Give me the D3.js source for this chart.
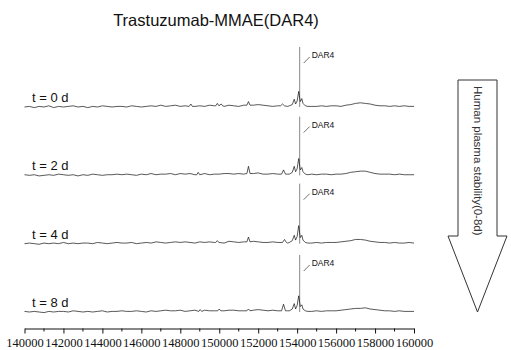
<!DOCTYPE html>
<html>
<head>
<meta charset="utf-8">
<script src="https://cdn.jsdelivr.net/npm/d3@7"></script>
<style>
  body { margin: 0; background: #fff; }
  svg { display: block; }
  .trace { fill: none; stroke: #111; stroke-width: 0.7; }
  .spike { stroke: #7a7a7a; stroke-width: 0.9; }
  .x.axis text { font-family: "Liberation Serif", serif; font-size: 12.5px; fill: #111; }
  .x.axis path, .x.axis line { stroke: #111; stroke-width: 1; }
</style>
</head>
<body>
<div id="chart"></div>
<script>
// time points, top to bottom
const timeLabels = ['t = 0 d', 't = 2 d', 't = 4 d', 't = 8 d'];

// baseline grid (every 250 Da, 140000..160000), relative intensity
const massStep = 250;
const noise0 = [0,1,-1,1,0,2,-1,1,0,1, 2,0,1,-1,1,0,2,1,0,1, 1,0,2,1,0,1,2,1,3,1, 2,3,1,2,3,1,2,1,3,2,
  2,1,3,2,1,3,4,3,4,3, 2,1,2,2,1,2,1,1,2,1, 1,2,1,2,2,1,3,4,6,7, 6,5,3,2,2,1,2,1,2,1, 1];
const noise2 = [1,0,1,-1,0,1,0,2,1,0, 1,-1,1,0,2,1,0,1,1,2, 1,2,1,0,2,1,3,1,2,2, 3,1,3,2,3,1,2,3,1,2,
  2,3,3,2,3,2,4,3,4,2, 2,3,2,1,2,2,2,1,2,2, 1,2,2,1,2,2,3,5,6,7, 7,5,3,2,2,2,1,2,1,1, 1];
const noise4 = [0,1,0,-1,1,0,1,0,2,0, 1,0,1,1,0,2,1,0,1,2, 1,1,2,0,1,2,1,3,2,1, 2,3,2,3,2,1,3,2,3,2,
  2,1,4,3,2,3,4,4,3,2, 2,3,2,2,1,2,2,1,2,1, 2,1,2,2,2,3,4,5,7,7, 6,4,3,2,2,1,2,1,1,2, 1];
const noise8 = [1,0,1,0,-1,1,0,1,1,0, 2,1,0,1,0,1,2,0,1,1, 2,1,1,2,1,0,2,1,2,3, 2,2,3,1,2,3,2,3,2,2,
  3,2,3,3,2,2,3,3,4,3, 2,3,2,1,2,2,2,1,2,1, 2,1,2,2,2,3,4,5,6,6, 7,5,4,3,2,2,1,2,1,1, 1];

// peak clusters [mass, intensity]
const peaks0 = [
  [[148450, 1], [148540, 5], [148620, 1]],
  [[149820, 2], [149900, 6], [149980, 2], [150100, 5], [150180, 2]],
  [[151420, 3], [151500, 9], [151580, 3]],
  [[153150, 2], [153250, 5], [153350, 2]],
  [[153600, 2], [153750, 4], [153850, 13], [153920, 5], [154000, 10], [154080, 26], [154160, 9], [154240, 14], [154300, 6], [154420, 2], [154550, 1]]
];
const peaks2 = [
  [[148850, 1], [148920, 5], [149000, 1]],
  [[151420, 3], [151500, 15], [151580, 3]],
  [[153200, 2], [153300, 9], [153400, 2]],
  [[153600, 2], [153750, 5], [153850, 15], [153920, 6], [154000, 11], [154080, 28], [154160, 9], [154240, 13], [154300, 6], [154420, 2], [154550, 1]]
];
const peaks4 = [
  [[149820, 2], [149900, 5], [149980, 2]],
  [[151420, 3], [151500, 11], [151580, 3]],
  [[153250, 2], [153350, 7], [153450, 2]],
  [[153600, 2], [153750, 5], [153850, 14], [153920, 6], [154000, 12], [154080, 30], [154160, 10], [154240, 14], [154300, 6], [154420, 2], [154550, 1]]
];
const peaks8 = [
  [[148950, 1], [149020, 4], [149100, 1]],
  [[149920, 2], [150000, 5], [150080, 2]],
  [[151420, 2], [151500, 5], [151580, 2]],
  [[153200, 2], [153300, 13], [153400, 2]],
  [[153600, 2], [153750, 5], [153850, 14], [153920, 5], [154000, 11], [154080, 27], [154160, 9], [154240, 12], [154300, 5], [154420, 2], [154550, 1]]
];

const noiseSeries = [noise0, noise2, noise4, noise8];
const peakSeries = [peaks0, peaks2, peaks4, peaks8];

// narrow DAR4 spike (gray in the figure)
const dar4Mass = 154130;
const dar4Tops = [100, 98, 100, 95];

const majorTicks = d3.range(140000, 160001, 2000);
const minorTicks = d3.range(141000, 160000, 2000);

const width = 511;
const height = 350;

const svg = d3.select('#chart')
  .append('svg')
  .attr('width', width)
  .attr('height', height);

const x = d3.scaleLinear()
  .domain([140000, 160000])
  .range([24.5, 414]);

const yBase = d3.scalePoint()
  .domain(timeLabels)
  .range([107, 312]);

const y = d3.scaleLinear()
  .domain([0, 100])
  .range([0, -60]);

function buildTrace(noise, clusters) {
  const pts = noise.map((v, i) => [140000 + i * massStep, v])
    .filter(p => !clusters.some(c => p[0] >= c[0][0] && p[0] <= c[c.length - 1][0]));
  clusters.forEach(c => c.forEach(p => pts.push(p)));
  return pts.sort((a, b) => a[0] - b[0]);
}

const line = d3.line()
  .x(d => x(d[0]))
  .y(d => y(d[1]));

timeLabels.forEach((label, i) => {
  const g = svg.append('g')
    .attr('transform', `translate(0,${yBase(label)})`);

  const px = x(dar4Mass);
  const top = y(dar4Tops[i]);

  g.append('line')
    .attr('class', 'spike')
    .attr('x1', px).attr('x2', px)
    .attr('y1', y(0)).attr('y2', top);

  g.append('path')
    .attr('class', 'trace')
    .attr('d', line(buildTrace(noiseSeries[i], peakSeries[i])));

  g.append('text')
    .attr('x', 32)
    .attr('y', -5)
    .attr('font-family', 'Arial, "Liberation Sans", sans-serif')
    .attr('font-size', 13)
    .attr('fill', '#111')
    .text(label);

  g.append('line')
    .attr('x1', px + 4).attr('y1', top + 16)
    .attr('x2', px + 10).attr('y2', top + 10)
    .attr('stroke', '#333').attr('stroke-width', 0.7);
  g.append('text')
    .attr('x', px + 12)
    .attr('y', top + 11)
    .attr('font-family', 'Arial, "Liberation Sans", sans-serif')
    .attr('font-size', 8.5)
    .attr('fill', '#111')
    .text('DAR4');
});

// axis
const axisG = svg.append('g')
  .attr('class', 'x axis')
  .attr('transform', 'translate(0,328.5)')
  .call(d3.axisBottom(x)
    .tickValues(majorTicks)
    .tickFormat(d3.format('d'))
    .tickSize(5)
    .tickSizeOuter(0)
    .tickPadding(5));

axisG.selectAll('.minor')
  .data(minorTicks)
  .enter()
  .append('line')
  .attr('class', 'minor')
  .attr('x1', d => x(d)).attr('x2', d => x(d))
  .attr('y1', 0).attr('y2', 3);

// title
svg.append('text')
  .attr('x', 216)
  .attr('y', 26)
  .attr('text-anchor', 'middle')
  .attr('font-family', 'Arial, "Liberation Sans", sans-serif')
  .attr('font-size', 16.5)
  .attr('fill', '#111')
  .text('Trastuzumab-MMAE(DAR4)');

// stability arrow
const arrow = { left: 458, right: 497, top: 80, shoulder: 236, headL: 448, headR: 507, tip: 312 };
const mid = (arrow.left + arrow.right) / 2;
svg.append('path')
  .attr('d', `M${arrow.left},${arrow.top}H${arrow.right}V${arrow.shoulder}H${arrow.headR}L${mid},${arrow.tip}L${arrow.headL},${arrow.shoulder}H${arrow.left}Z`)
  .attr('fill', '#fff')
  .attr('stroke', '#333')
  .attr('stroke-width', 1);

svg.append('text')
  .attr('transform', `translate(${mid - 4},86) rotate(90)`)
  .attr('font-family', 'Arial, "Liberation Sans", sans-serif')
  .attr('font-size', 11.5)
  .attr('fill', '#333')
  .text('Human plasma stability(0-8d)');
</script>
</body>
</html>
